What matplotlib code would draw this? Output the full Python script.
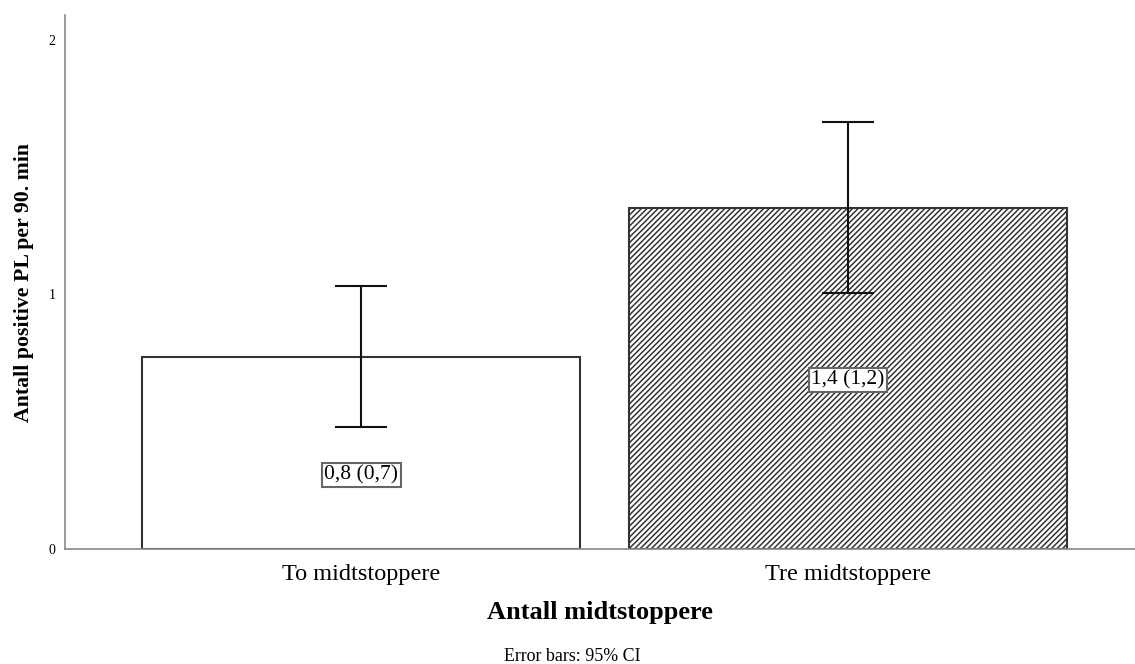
import numpy as np
import matplotlib
matplotlib.use("Agg")
import matplotlib.pyplot as plt

plt.rcParams['font.family'] = ['Liberation Serif', 'DejaVu Serif']
plt.rcParams['hatch.linewidth'] = 1.1
plt.rcParams['hatch.color'] = '#333333'

# data
categories = ['To midtstoppere', 'Tre midtstoppere']
means = [0.756, 1.341]
ci_low = [0.481, 1.005]
ci_high = [1.033, 1.677]
bar_labels = ['0,8 (0,7)', '1,4 (1,2)']
yticks = [0, 1, 2]

fig = plt.figure(figsize=(11.35, 6.64), dpi=100)
ax = fig.add_axes([0.0573, 0.1732, 0.9427, 0.8042])

x = np.arange(len(categories))
hatches = ['', '//////']
bars = ax.bar(x, means, width=0.9, color='white', edgecolor='#333333',
              linewidth=1.5, zorder=2)
for b, h in zip(bars, hatches):
    b.set_hatch(h)

means_a = np.array(means)
yerr = [means_a - np.array(ci_low), np.array(ci_high) - means_a]
ax.errorbar(x, means, yerr=yerr, fmt='none', ecolor='#111111',
            elinewidth=1.5, capsize=18.7, capthick=1.5, zorder=3)

# label positions inside the bars
label_y = [0.29, 0.664]
for xi, yi, t in zip(x, label_y, bar_labels):
    ax.text(xi, yi, t, ha='center', va='center', fontsize=15.5, zorder=4,
            bbox=dict(boxstyle='square,pad=0.12', fc='white', ec='#666666', lw=1.5))

ax.set_xlim(-0.608, 1.589)
ax.set_ylim(0, 2.098)
ax.set_xticks(x)
ax.set_xticklabels(categories, fontsize=17.5)
ax.set_yticks(yticks)
ax.set_yticklabels([str(t) for t in yticks], fontsize=10)
ax.tick_params(axis='x', length=0, pad=11)
ax.tick_params(axis='y', length=0, pad=7)

for s in ['top', 'right']:
    ax.spines[s].set_visible(False)
for s in ['left', 'bottom']:
    ax.spines[s].set_color('#888888')
    ax.spines[s].set_linewidth(1.2)

ax.set_ylabel('Antall positive PL per 90. min', fontsize=15.7, fontweight='bold', labelpad=10)
ax.set_xlabel('Antall midtstoppere', fontsize=19, fontweight='bold', labelpad=11)
fig.text(0.504, 0.012, 'Error bars: 95% CI', ha='center', va='center', fontsize=12.9)

fig.savefig('out.png', dpi=100)
